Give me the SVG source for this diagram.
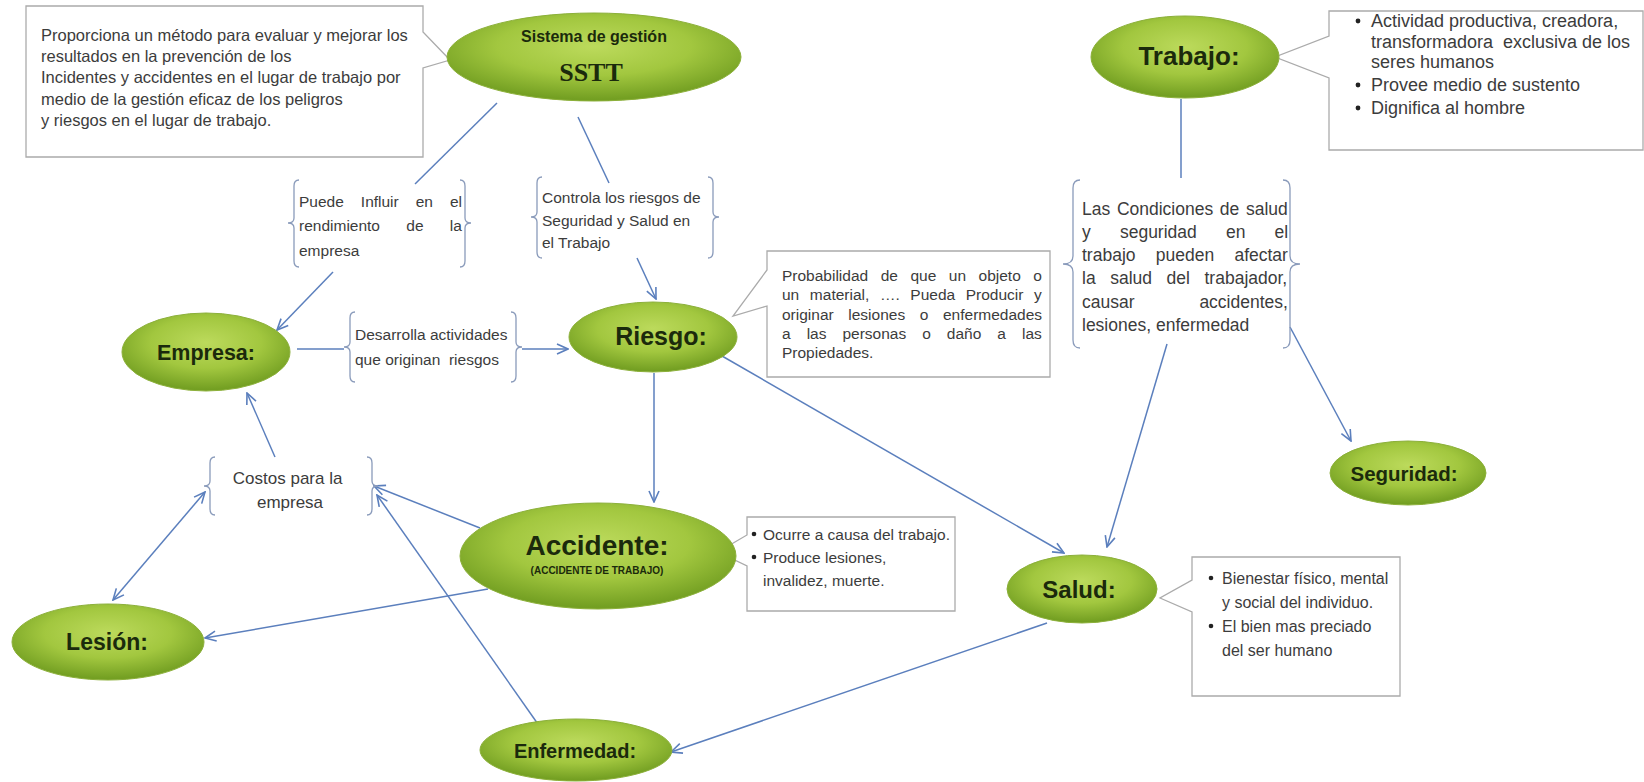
<svg xmlns="http://www.w3.org/2000/svg" width="1644" height="782" viewBox="0 0 1644 782">
<defs>
  <radialGradient id="g" cx="50%" cy="38%" r="60%">
    <stop offset="0" stop-color="#bcda5c"/>
    <stop offset="0.55" stop-color="#a2c73f"/>
    <stop offset="1" stop-color="#739f22"/>
  </radialGradient>
  <marker id="ah" viewBox="0 0 14 14" refX="13" refY="7" markerWidth="14" markerHeight="14" markerUnits="userSpaceOnUse" orient="auto-start-reverse">
    <path d="M2,2 L13,7 L2,12" fill="none" stroke="#5b7fbd" stroke-width="1.6"/>
  </marker>
</defs>
<style>
 .ell{fill:url(#g);stroke:#8cb03a;stroke-width:1}
 .lbl{font-family:"Liberation Sans",Arial,sans-serif;font-weight:bold;fill:#1b2a0c;text-anchor:middle}
 .txt{font-family:"Liberation Sans",Arial,sans-serif;fill:#3c3c3c}
 .box{fill:#fff;stroke:#ababab;stroke-width:1.3}
 .br{fill:none;stroke:#8a9bbb;stroke-width:1.3}
 .c{fill:none;stroke:#5b7fbd;stroke-width:1.5}
 .a{marker-end:url(#ah)}
 .aa{marker-end:url(#ah);marker-start:url(#ah)}
 .dot{fill:#222}
</style>
<rect width="1644" height="782" fill="#fff"/>

<g id="connectors">
  <line class="c" x1="497" y1="103" x2="415" y2="184"/>
  <line class="c" x1="578" y1="117" x2="609" y2="183"/>
  <line class="c a" x1="333" y1="272" x2="277" y2="330"/>
  <line class="c a" x1="637" y1="258" x2="656" y2="299"/>
  <line class="c" x1="297" y1="349" x2="344" y2="349"/>
  <line class="c a" x1="522" y1="349" x2="568" y2="349"/>
  <line class="c a" x1="654" y1="373" x2="654" y2="502"/>
  <line class="c a" x1="722" y1="356" x2="1064" y2="553"/>
  <line class="c" x1="1181" y1="99" x2="1181" y2="178"/>
  <line class="c a" x1="1167" y1="344" x2="1107" y2="547"/>
  <line class="c a" x1="1290" y1="327" x2="1351" y2="441"/>
  <line class="c a" x1="275" y1="457" x2="247" y2="393"/>
  <line class="c aa" x1="113" y1="600" x2="205" y2="492"/>
  <line class="c a" x1="480" y1="528" x2="374" y2="486"/>
  <line class="c a" x1="540" y1="727" x2="377" y2="495"/>
  <line class="c a" x1="488" y1="589" x2="205" y2="638"/>
  <line class="c a" x1="1047" y1="623" x2="671" y2="752"/>
</g>

<g id="sstt-note">
  <path class="box" d="M26,6 H423 V32 L450,60 L423,68 V157 H26 Z"/>
  <text class="txt" font-size="16.5" x="41">
    <tspan x="41" y="41">Proporciona un método para evaluar y mejorar los</tspan>
    <tspan x="41" y="62">resultados en la prevención de los</tspan>
    <tspan x="41" y="83">Incidentes y accidentes en el lugar de trabajo por</tspan>
    <tspan x="41" y="105">medio de la gestión eficaz de los peligros</tspan>
    <tspan x="41" y="126">y riesgos en el lugar de trabajo.</tspan>
  </text>
</g>

<g id="sstt">
  <ellipse class="ell" cx="594" cy="57" rx="147" ry="44"/>
  <text class="lbl" x="594" y="42" font-size="16">Sistema de gestión</text>
  <text class="lbl" x="591" y="81" font-size="26" style="font-family:'Liberation Serif',serif">SSTT</text>
</g>

<g id="puede">
  <path class="br" d="M299,180 Q294,180 294,186 L294,218 Q294,223 288,223 Q294,223 294,228 L294,261 Q294,267 299,267"/>
  <path class="br" d="M460,180 Q465,180 465,186 L465,218 Q465,223 471,223 Q465,223 465,228 L465,261 Q465,267 460,267"/>
  <text class="txt" font-size="15.5">
    <tspan x="299" y="207" style="word-spacing:12.7px">Puede Influir en el</tspan>
    <tspan x="299" y="231" style="word-spacing:22px">rendimiento de la</tspan>
    <tspan x="299" y="256">empresa</tspan>
  </text>
</g>

<g id="controla">
  <path class="br" d="M542,177 Q537,177 537,183 L537,212 Q537,217 531,217 Q537,217 537,222 L537,252 Q537,258 542,258"/>
  <path class="br" d="M708,177 Q713,177 713,183 L713,212 Q713,217 719,217 Q713,217 713,222 L713,252 Q713,258 708,258"/>
  <text class="txt" font-size="15.5">
    <tspan x="542" y="203">Controla los riesgos de</tspan>
    <tspan x="542" y="226">Seguridad y Salud en</tspan>
    <tspan x="542" y="248">el Trabajo</tspan>
  </text>
</g>

<g id="empresa">
  <ellipse class="ell" cx="206" cy="352" rx="84" ry="39"/>
  <text class="lbl" x="206" y="360" font-size="21.5">Empresa:</text>
</g>

<g id="desarrolla">
  <path class="br" d="M355,312 Q350,312 350,318 L350,342 Q350,347 344,347 Q350,347 350,352 L350,376 Q350,382 355,382"/>
  <path class="br" d="M511,312 Q516,312 516,318 L516,342 Q516,347 522,347 Q516,347 516,352 L516,376 Q516,382 511,382"/>
  <text class="txt" font-size="15.5">
    <tspan x="355" y="340">Desarrolla actividades</tspan>
    <tspan x="355" y="365">que originan&#160; riesgos</tspan>
  </text>
</g>

<g id="riesgo-note">
  <path class="box" d="M767,251 H1050 V377 H767 V306 L733,316 L767,270 Z"/>
  <text class="txt" font-size="15.5">
    <tspan x="782" y="281" style="word-spacing:8.2px">Probabilidad de que un objeto o</tspan>
    <tspan x="782" y="300" style="word-spacing:6.3px">un material, …. Pueda Producir y</tspan>
    <tspan x="782" y="320" style="word-spacing:10.3px">originar lesiones o enfermedades</tspan>
    <tspan x="782" y="339" style="word-spacing:11.7px">a las personas o daño a las</tspan>
    <tspan x="782" y="358">Propiedades.</tspan>
  </text>
</g>

<g id="riesgo">
  <ellipse class="ell" cx="653" cy="337" rx="84" ry="35"/>
  <text class="lbl" x="661" y="345" font-size="25">Riesgo:</text>
</g>

<g id="trabajo-note">
  <path class="box" d="M1329,11 H1643 V150 H1329 V78 L1275,57 L1329,36 Z"/>
  <circle class="dot" cx="1358" cy="21" r="2.4"/>
  <circle class="dot" cx="1358" cy="85" r="2.4"/>
  <circle class="dot" cx="1358" cy="108" r="2.4"/>
  <text class="txt" font-size="18">
    <tspan x="1371" y="27">Actividad productiva, creadora,</tspan>
    <tspan x="1371" y="48">transformadora&#160; exclusiva de los</tspan>
    <tspan x="1371" y="68">seres humanos</tspan>
    <tspan x="1371" y="91">Provee medio de sustento</tspan>
    <tspan x="1371" y="114">Dignifica al hombre</tspan>
  </text>
</g>

<g id="trabajo">
  <ellipse class="ell" cx="1185" cy="57" rx="94" ry="41"/>
  <text class="lbl" x="1189" y="65" font-size="26">Trabajo:</text>
</g>

<g id="condiciones">
  <path class="br" d="M1080,180 Q1073,180 1073,188 L1073,256 Q1073,264 1063,264 Q1073,264 1073,272 L1073,340 Q1073,348 1080,348"/>
  <path class="br" d="M1283,180 Q1290,180 1290,188 L1290,256 Q1290,264 1300,264 Q1290,264 1290,272 L1290,340 Q1290,348 1283,348"/>
  <text class="txt" font-size="17.5">
    <tspan x="1082" y="215" style="word-spacing:1.8px">Las Condiciones de salud</tspan>
    <tspan x="1082" y="238" style="word-spacing:24.3px">y seguridad en el</tspan>
    <tspan x="1082" y="261" style="word-spacing:15.4px">trabajo pueden afectar</tspan>
    <tspan x="1082" y="284" style="word-spacing:9.7px">la salud del trabajador,</tspan>
    <tspan x="1082" y="308" style="word-spacing:60px">causar accidentes,</tspan>
    <tspan x="1082" y="331">lesiones, enfermedad</tspan>
  </text>
</g>

<g id="seguridad">
  <ellipse class="ell" cx="1408" cy="473" rx="78" ry="32"/>
  <text class="lbl" x="1404" y="481" font-size="20.5">Seguridad:</text>
</g>

<g id="costos">
  <path class="br" d="M215,457 Q210,457 210,463 L210,481 Q210,486 204,486 Q210,486 210,491 L210,509 Q210,515 215,515"/>
  <path class="br" d="M367,457 Q372,457 372,463 L372,481 Q372,486 378,486 Q372,486 372,491 L372,509 Q372,515 367,515"/>
  <text class="txt" font-size="17" text-anchor="middle">
    <tspan x="290" y="484">Costos para la</tspan>
    <tspan x="290" y="508">empresa</tspan>
  </text>
</g>

<g id="accidente-note">
  <path class="box" d="M747,517 H955 V611 H747 V566 L718,552 L747,535 Z"/>
  <circle class="dot" cx="754" cy="534" r="2.3"/>
  <circle class="dot" cx="754" cy="557" r="2.3"/>
  <text class="txt" font-size="15.5">
    <tspan x="763" y="540">Ocurre a causa del trabajo.</tspan>
    <tspan x="763" y="563">Produce lesiones,</tspan>
    <tspan x="763" y="586">invalidez, muerte.</tspan>
  </text>
</g>

<g id="accidente">
  <ellipse class="ell" cx="598" cy="556" rx="138" ry="53"/>
  <text class="lbl" x="597" y="555" font-size="28">Accidente:</text>
  <text class="lbl" x="597" y="574" font-size="10">(ACCIDENTE DE TRABAJO)</text>
</g>

<g id="lesion">
  <ellipse class="ell" cx="108" cy="642" rx="96" ry="38"/>
  <text class="lbl" x="107" y="650" font-size="23">Lesión:</text>
</g>

<g id="salud-note">
  <path class="box" d="M1192,557 H1400 V696 H1192 V612 L1160,598 L1192,580 Z"/>
  <circle class="dot" cx="1211" cy="578" r="2.3"/>
  <circle class="dot" cx="1211" cy="626" r="2.3"/>
  <text class="txt" font-size="16">
    <tspan x="1222" y="584">Bienestar físico, mental</tspan>
    <tspan x="1222" y="608">y social del individuo.</tspan>
    <tspan x="1222" y="632">El bien mas preciado</tspan>
    <tspan x="1222" y="656">del ser humano</tspan>
  </text>
</g>

<g id="salud">
  <ellipse class="ell" cx="1082" cy="589" rx="75" ry="34"/>
  <text class="lbl" x="1079" y="598" font-size="24">Salud:</text>
</g>

<g id="enfermedad">
  <ellipse class="ell" cx="576" cy="750" rx="96" ry="31"/>
  <text class="lbl" x="575" y="758" font-size="20">Enfermedad:</text>
</g>
</svg>
